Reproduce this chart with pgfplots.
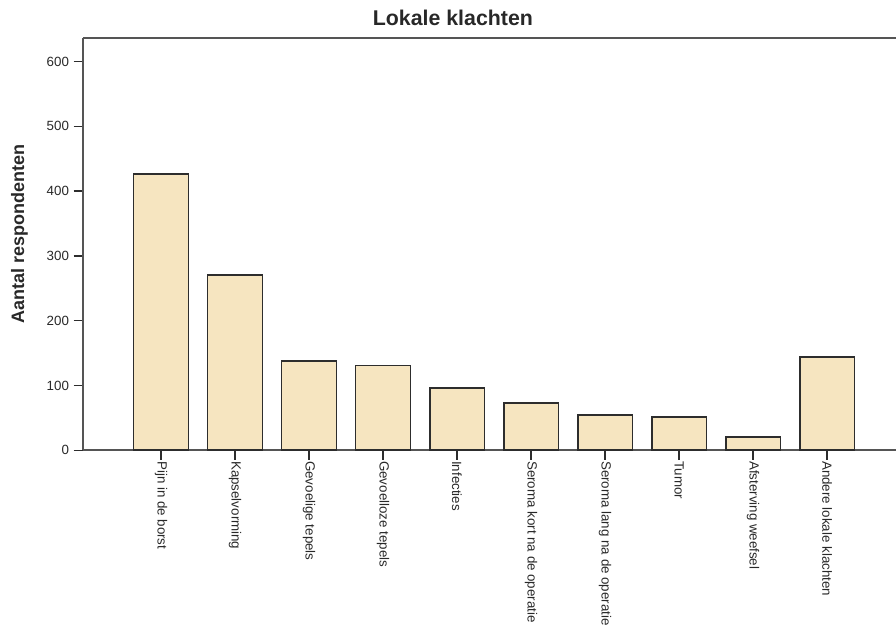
\documentclass[border=0pt]{standalone}
\usepackage{pgfplots}
\usepackage{pgfplotstable}
\pgfplotsset{compat=1.18}
\usepackage{fontspec}
\setmainfont{Liberation Sans}
\definecolor{barfill}{RGB}{246,229,192}
\definecolor{edge}{RGB}{45,45,45}
\definecolor{axisgray}{RGB}{85,85,85}
\definecolor{txt}{RGB}{40,40,40}

\pgfplotstableread{
x y
0 426
1 271
2 138
3 131
4 96
5 73
6 54
7 51
8 21
9 144
}\klachten

\begin{document}
\begin{tikzpicture}
\begin{axis}[
    at={(0,0)}, anchor=south west,
    scale only axis,
    width=609.75pt, height=309pt,
    xmin=-1.054, xmax=9.932,
    ymin=0, ymax=636,
    axis x line*=box, axis y line*=left,
    axis line style={draw=axisgray, line width=1.3pt, -},
    tick pos=left, tick align=outside,
    major tick length=7pt,
    tick style={draw=edge, line width=1pt},
    xtick={0,...,9},
    xticklabels={Pijn in de borst, Kapselvorming, Gevoelige tepels, Gevoelloze tepels,
      Infecties, Seroma kort na de operatie, Seroma lang na de operatie, Tumor,
      Afsterving weefsel, Andere lokale klachten},
    xticklabel style={rotate=-90, anchor=west, inner sep=1pt,
      font=\fontsize{10}{12}\selectfont, text=txt},
    ytick={0,100,...,600},
    yticklabel style={font=\fontsize{10}{12}\selectfont, text=txt},
    /pgf/number format/assume math mode=true,
    title={Lokale klachten},
    title style={at={(axis description cs:0.455,1)}, anchor=south,
      font=\bfseries\fontsize{16}{19}\selectfont, text=txt},
    ylabel={Aantal respondenten},
    ylabel style={at={(axis description cs:-0.078,0.524)}, anchor=center,
      font=\bfseries\fontsize{13.5}{15}\selectfont, text=txt},
    ybar, bar width=0.74,
]
\addplot[fill=barfill, draw=edge, line width=1.3pt] table[x=x, y=y] {\klachten};
\end{axis}
\pgfresetboundingbox
\path (-62.25pt,-132.2pt) rectangle (609.75pt,337.7pt);
\end{tikzpicture}
\end{document}
